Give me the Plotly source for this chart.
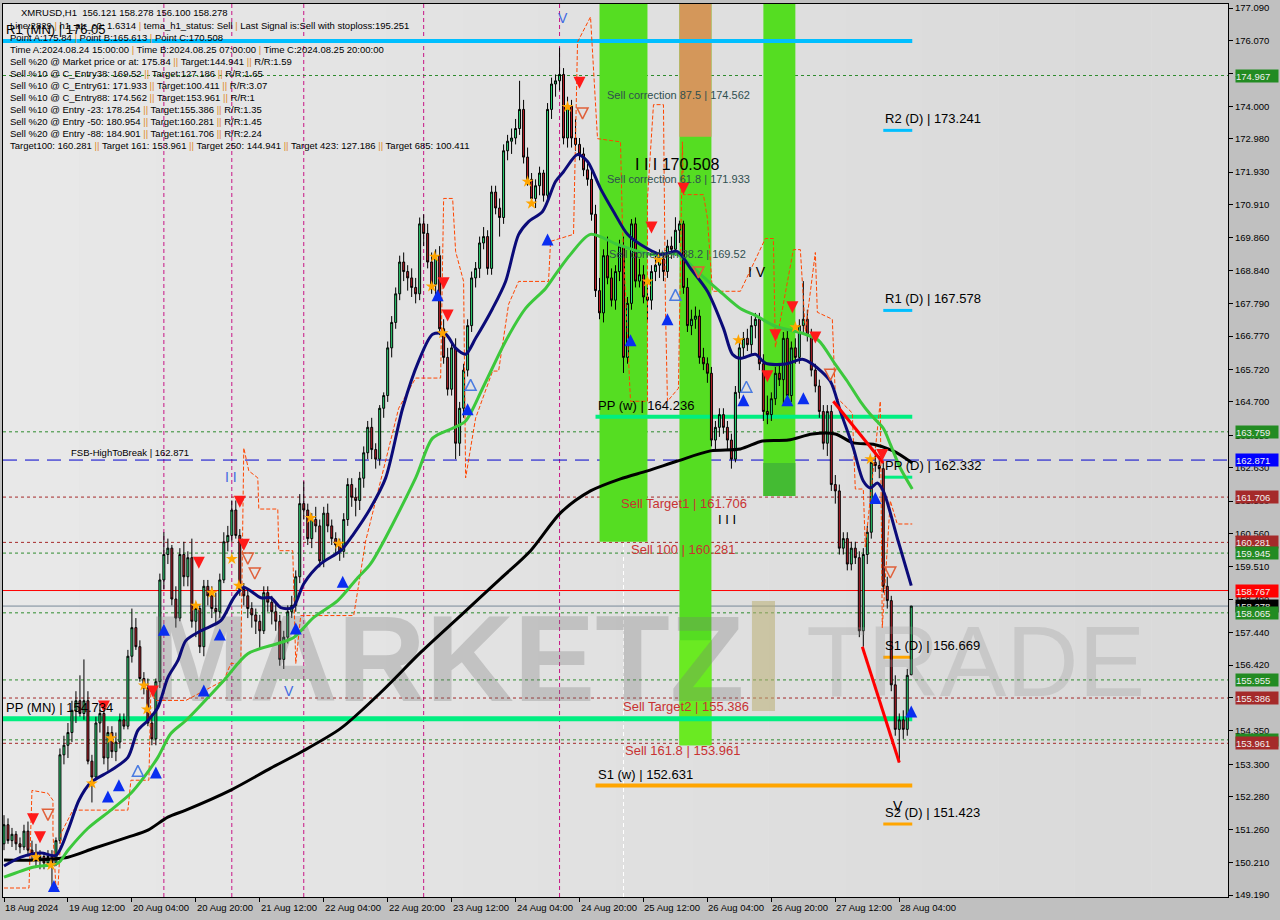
import re
import pandas as pd
import plotly.graph_objects as go

# ---------------- DATA ----------------
T0 = pd.Timestamp("2024-08-18 20:00")

open_px = [
    150.8, 151.4, 150.9, 151.1, 150.8, 150.7, 151.2, 150.6, 150.5, 150.3, 150.4, 150.2,
    150.4, 150.2, 150.9, 153.6, 153.9, 154.3, 155.0, 155.3, 154.9, 155.3, 153.4, 152.9,
    154.6, 154.9, 153.5, 154.3, 153.7, 154.0, 154.7, 154.5, 156.7, 157.6, 157.0, 156.0,
    155.7, 154.6, 154.1, 155.9, 159.1, 159.9, 160.1, 158.5, 157.9, 159.9, 159.2, 159.8,
    157.8, 158.2, 157.0, 158.9, 158.6, 158.2, 158.1, 159.1, 160.3, 160.5, 161.3, 160.5,
    158.8, 158.6, 158.2, 158.0, 157.8, 157.5, 158.7, 158.4, 158.1, 157.8, 156.6, 157.3,
    158.1, 158.3, 159.2, 161.5, 161.3, 160.4, 161.0, 160.8, 159.7, 161.2, 160.8, 160.4,
    160.2, 160.0, 161.0, 162.1, 161.7, 161.6, 162.3, 163.1, 163.9, 163.2, 162.9, 164.5,
    164.9, 166.4, 167.2, 168.1, 169.1, 168.8, 168.6, 168.3, 168.1, 170.3, 170.0, 169.1,
    168.4, 169.3, 167.0, 166.1, 165.1, 166.4, 163.4, 164.5, 165.7, 167.1, 168.6, 168.9,
    169.7, 169.9, 168.9, 171.3, 170.8, 170.5, 172.6, 172.9, 173.0, 173.3, 173.9, 172.4,
    171.7, 171.1, 171.5, 171.9, 171.2, 173.9, 174.7, 174.8, 175.0, 173.0, 174.0, 173.0,
    172.8, 172.5, 172.0, 171.7, 170.6, 168.2, 167.5, 169.3, 168.6, 167.9, 168.8, 169.6,
    166.1, 167.8, 170.3, 168.5, 168.7, 168.0, 167.9, 168.8, 169.0, 169.2, 168.8, 169.6,
    169.5, 170.1, 170.3, 168.3, 167.1, 167.3, 167.4, 166.1, 165.9, 165.6, 163.5, 163.9,
    164.3, 163.9, 163.5, 162.9, 165.0, 166.4, 166.7, 166.5, 167.1, 167.3, 165.9, 164.4,
    164.3, 164.8, 165.6, 165.4, 166.7, 164.9, 166.4, 166.1, 167.1, 167.3, 166.8, 165.7,
    165.2, 164.4, 163.4, 164.4, 162.1, 161.9, 160.1, 160.4, 159.6, 160.1, 159.8, 157.5,
    159.9, 160.6, 162.8, 162.7, 162.6, 158.9, 158.45, 155.8, 154.4, 154.7, 154.4, 156.121,
]
high_px = [
    151.7, 151.6, 151.3, 151.2, 151.0, 151.4, 151.5, 150.9, 150.8, 150.6, 150.5, 150.6,
    150.6, 151.0, 153.8, 154.2, 154.6, 155.3, 155.6, 156.1, 156.6, 155.6, 153.6, 154.8,
    155.2, 155.1, 154.5, 154.5, 154.3, 154.9, 154.9, 156.9, 158.2, 157.9, 157.2, 156.2,
    156.0, 154.9, 156.0, 159.3, 160.6, 160.4, 160.2, 158.9, 160.1, 160.3, 160.0, 160.4,
    158.4, 158.3, 159.1, 159.1, 158.9, 158.7, 159.3, 160.6, 160.8, 161.6, 161.6, 160.7,
    159.0, 158.8, 158.4, 158.2, 158.0, 158.9, 158.9, 158.6, 158.4, 158.0, 157.5, 158.3,
    158.6, 159.4, 161.8, 162.2, 161.5, 161.2, 161.4, 161.0, 161.4, 161.5, 161.0, 160.6,
    160.4, 161.2, 162.3, 162.3, 162.0, 162.5, 163.3, 164.1, 164.2, 163.4, 164.6, 165.0,
    166.6, 167.4, 168.3, 169.3, 169.4, 169.0, 168.9, 168.6, 170.5, 170.6, 170.3, 169.4,
    169.5, 169.6, 167.3, 166.4, 166.6, 166.7, 164.7, 165.9, 167.3, 168.8, 169.1, 169.9,
    170.2, 170.1, 171.5, 171.5, 171.1, 172.8, 173.1, 173.3, 173.6, 174.8, 174.2, 172.7,
    171.9, 171.7, 172.1, 172.0, 174.1, 174.9, 175.0, 175.84, 175.2, 174.3, 174.2, 173.6,
    173.0, 172.7, 172.2, 172.0, 170.9, 168.6, 169.5, 169.9, 168.9, 169.0, 169.8, 169.9,
    168.0, 170.45, 170.5, 169.2, 169.0, 168.3, 169.0, 169.3, 169.5, 169.4, 169.8, 169.9,
    170.508, 170.4, 170.4, 168.6, 167.6, 167.7, 167.6, 166.4, 166.1, 165.8, 164.1, 164.5,
    164.5, 164.1, 163.7, 165.2, 166.6, 166.9, 167.0, 167.4, 167.5, 167.5, 166.2, 164.9,
    165.0, 165.8, 165.9, 166.9, 167.0, 166.6, 166.7, 167.3, 168.5, 167.6, 167.0, 165.9,
    165.4, 164.6, 164.6, 164.6, 162.4, 162.1, 160.6, 160.6, 160.3, 160.3, 160.0, 160.1,
    160.8, 162.9, 163.2, 163.0, 162.8, 159.2, 158.6, 156.1, 154.9, 155.0, 156.3, 158.278,
]
low_px = [
    150.6, 150.8, 150.7, 150.6, 150.5, 150.6, 150.4, 150.3, 150.1, 150.0, 150.0, 150.1,
    149.4, 150.1, 150.8, 153.3, 153.5, 154.0, 154.6, 154.8, 154.7, 153.3, 152.1, 152.8,
    154.3, 153.3, 153.1, 153.5, 153.4, 153.8, 154.4, 154.4, 156.5, 156.9, 155.9, 155.5,
    154.5, 153.9, 153.9, 155.7, 158.8, 159.6, 158.3, 157.6, 157.8, 158.9, 158.9, 157.6,
    157.3, 156.8, 156.7, 158.3, 157.9, 157.7, 157.9, 159.0, 160.0, 160.3, 160.4, 158.6,
    158.3, 157.9, 157.6, 157.4, 156.9, 157.4, 158.1, 157.7, 157.5, 156.4, 156.3, 157.1,
    157.9, 158.1, 159.0, 161.0, 160.2, 160.1, 160.6, 159.5, 159.5, 160.6, 160.2, 159.9,
    159.7, 159.8, 160.8, 161.4, 161.1, 161.3, 162.0, 162.9, 162.9, 162.6, 162.7, 164.2,
    164.7, 166.1, 167.0, 167.9, 168.5, 168.2, 168.0, 167.8, 167.9, 169.6, 168.9, 168.1,
    168.0, 166.8, 165.9, 164.9, 164.9, 162.9, 163.0, 164.2, 165.5, 166.9, 168.3, 168.6,
    169.5, 168.7, 168.7, 170.6, 169.9, 170.3, 172.3, 172.5, 172.8, 173.1, 172.2, 171.5,
    170.9, 170.8, 171.2, 171.0, 171.0, 173.6, 174.3, 174.5, 172.8, 172.7, 172.7, 172.6,
    172.3, 171.8, 171.5, 170.4, 168.0, 167.3, 167.2, 168.4, 167.7, 167.6, 168.5, 165.61,
    165.9, 167.6, 168.3, 168.3, 167.8, 167.2, 167.6, 168.5, 168.6, 168.5, 168.6, 169.2,
    169.3, 169.7, 168.1, 166.9, 166.8, 167.0, 165.9, 165.7, 165.3, 163.3, 163.2, 163.6,
    163.7, 163.2, 162.6, 162.8, 164.8, 166.1, 166.3, 166.2, 166.7, 165.7, 164.1, 164.0,
    164.1, 164.6, 165.2, 164.6, 164.6, 164.7, 165.9, 165.9, 166.9, 166.6, 165.5, 165.0,
    164.2, 163.2, 163.0, 161.9, 161.5, 159.9, 159.9, 159.4, 159.4, 159.6, 157.3, 157.0,
    159.6, 160.4, 162.5, 162.3, 158.7, 158.2, 155.6, 154.2, 153.36, 154.1, 154.2, 156.100,
]
close_px = [
    151.4, 150.9, 151.1, 150.8, 150.7, 151.2, 150.6, 150.5, 150.3, 150.4, 150.2, 150.4,
    150.2, 150.9, 153.6, 153.9, 154.3, 155.0, 155.3, 154.9, 155.3, 153.4, 152.9, 154.6,
    154.9, 153.5, 154.3, 153.7, 154.0, 154.7, 154.5, 156.7, 157.6, 157.0, 156.0, 155.7,
    154.6, 154.1, 155.9, 159.1, 159.9, 160.1, 158.5, 157.9, 159.9, 159.2, 159.8, 157.8,
    158.2, 157.0, 158.9, 158.6, 158.2, 158.1, 159.1, 160.3, 160.5, 161.3, 160.5, 158.8,
    158.6, 158.2, 158.0, 157.8, 157.5, 158.7, 158.4, 158.1, 157.8, 156.6, 157.3, 158.1,
    158.3, 159.2, 161.5, 161.3, 160.4, 161.0, 160.8, 159.7, 161.2, 160.8, 160.4, 160.2,
    160.0, 161.0, 162.1, 161.7, 161.6, 162.3, 163.1, 163.9, 163.2, 162.9, 164.5, 164.9,
    166.4, 167.2, 168.1, 169.1, 168.8, 168.6, 168.3, 168.1, 170.3, 170.0, 169.1, 168.4,
    169.3, 167.0, 166.1, 165.1, 166.4, 163.4, 164.5, 165.7, 167.1, 168.6, 168.9, 169.7,
    169.9, 168.9, 171.3, 170.8, 170.5, 172.6, 172.9, 173.0, 173.3, 173.9, 172.4, 171.7,
    171.1, 171.5, 171.9, 171.2, 173.9, 174.7, 174.8, 175.0, 173.0, 174.0, 173.0, 172.8,
    172.5, 172.0, 171.7, 170.6, 168.2, 167.5, 169.3, 168.6, 167.9, 168.8, 169.6, 166.1,
    167.8, 170.3, 168.5, 168.7, 168.0, 167.9, 168.8, 169.0, 169.2, 168.8, 169.6, 169.5,
    170.1, 170.3, 168.3, 167.1, 167.3, 167.4, 166.1, 165.9, 165.6, 163.5, 163.9, 164.3,
    163.9, 163.5, 162.9, 165.0, 166.4, 166.7, 166.5, 167.1, 167.3, 165.9, 164.4, 164.3,
    164.8, 165.6, 165.4, 166.7, 164.9, 166.4, 166.1, 167.1, 167.3, 166.8, 165.7, 165.2,
    164.4, 163.4, 164.4, 162.1, 161.9, 160.1, 160.4, 159.6, 160.1, 159.8, 157.5, 159.9,
    160.6, 162.8, 162.7, 162.6, 158.9, 158.45, 155.8, 154.4, 154.7, 154.4, 156.1, 158.278,
]

# moving averages (bar index, price)
navy_idx = [0, 4.25, 9.25, 13, 16, 18.75, 21.75, 26.75, 31, 33.5, 36, 38.5, 41, 43.5, 45.5,
            49.25, 54.25, 57.5, 60, 64.25, 66.75, 69.25, 72.25, 75, 79.25, 84.25, 87.5, 91.75,
            95.5, 99.75, 103.75, 107.25, 110.5, 113, 115.5, 118, 122.25, 125.5, 128.75, 131.25,
            134.75, 138, 140, 143.5, 146, 149.25, 152.5, 156, 159.25, 164.25, 168.5, 171.75,
            176, 180, 182.25, 184.25, 188, 190.5, 195.5, 199.75, 202.25, 206.75, 209.25, 212.5,
            215, 216.75, 218.5, 220, 223.5, 227]
navy_val = [150.10, 150.38, 150.51, 150.44, 151.23, 152.17, 152.73, 153.11, 153.52, 154.37,
            154.68, 155.09, 156.03, 156.56, 157.19, 157.50, 157.82, 158.54, 158.86, 158.54,
            158.54, 158.23, 158.23, 158.98, 159.61, 160.02, 160.55, 161.37, 162.31, 164.50,
            165.98, 166.83, 166.83, 166.39, 166.20, 166.70, 167.64, 168.49, 169.96, 170.37,
            170.69, 171.63, 171.94, 172.48, 172.26, 171.41, 170.69, 169.97, 169.65, 169.34,
            169.43, 168.90, 168.18, 167.02, 166.20, 166.07, 166.20, 165.92, 165.89, 166.04,
            165.89, 165.35, 164.41, 163.25, 162.21, 161.99, 162.15, 161.90, 160.42, 158.92]

green_idx = [0, 7.5, 13.5, 16, 21, 26.75, 31.75, 35, 38.5, 41.75, 45.5, 55, 61, 68.5, 72.5,
             77.5, 83.5, 88.5, 91.75, 103, 107.25, 112.25, 115.5, 119.75, 125.5, 130.5, 135.5,
             138, 141.75, 146.75, 153.5, 161.75, 168.5, 174.25, 180, 184.25, 188, 193, 199.75,
             203.75, 208, 211, 214.25, 216.75, 220, 221.75, 224.25, 227.25]
green_val = [149.75, 150.07, 150.19, 150.60, 151.29, 151.86, 152.39, 152.89, 153.52, 154.27,
             154.68, 155.94, 156.78, 157.10, 157.29, 157.92, 158.45, 159.17, 159.61, 162.31,
             163.56, 163.87, 164.10, 165.13, 166.61, 167.64, 168.27, 168.71, 169.34, 169.97,
             169.65, 169.34, 169.34, 168.71, 168.08, 167.64, 167.42, 167.08, 166.86, 166.64,
             165.88, 165.35, 164.72, 164.31, 163.87, 163.37, 162.62, 161.96]

black_idx = [0, 7.5, 16, 22.5, 31, 36, 41, 45.5, 56.75, 66.75, 74.25, 84.25, 94.25, 104.25,
             114.25, 124.25, 131.75, 139.25, 146.75, 154.25, 161, 168.5, 176.75, 184.25,
             189.75, 196.25, 202.25, 208, 212.5, 217.5, 222.5, 227.25]
black_val = [150.29, 150.29, 150.38, 150.66, 151.01, 151.23, 151.64, 151.86, 152.49, 153.18,
             153.68, 154.43, 155.56, 156.82, 157.98, 159.14, 160.02, 161.21, 161.90, 162.28,
             162.53, 162.84, 163.16, 163.22, 163.47, 163.50, 163.69, 163.69, 163.41, 163.37,
             163.16, 162.78]

orange_idx = [0, 6.25, 7, 11, 12.25, 12.25, 13, 13.5, 14.25, 17.25, 31, 31.75, 36.25, 36.75,
              38, 45.5, 55, 56.75, 59.25, 60, 61.25, 63.5, 63.75, 68.5, 68.75, 72.25, 73, 74.25,
              87.5, 90.5, 98.75, 103, 109.25, 110, 112.25, 113, 115, 115.5, 118, 122.25, 123.75,
              126.25, 128.75, 136.25, 136.75, 142.5, 143.5, 146.75, 148.5, 154.25, 154.75,
              156.75, 161, 161, 162.5, 165, 165.5, 166, 168.75, 169.75, 170, 175, 176, 177.25,
              184.25, 190.5, 192.5, 193, 197.5, 199.25, 200.5, 203, 203.5, 207.25, 208, 212.25,
              213, 215, 215.5, 219.25, 219.75, 221.75, 223.5, 227.25]
orange_val = [149.41, 149.41, 152.48, 152.39, 152.17, 151.13, 149.41, 149.41, 151.13, 151.86,
              151.86, 152.80, 152.80, 155.62, 155.31, 155.31, 155.94, 156.47, 156.47, 163.25,
              162.53, 162.31, 161.33, 161.33, 160.02, 160.02, 156.47, 157.98, 157.98, 160.33,
              164.50, 165.45, 165.45, 171.10, 171.10, 169.43, 168.49, 162.31, 164.19, 165.67,
              165.67, 167.77, 168.49, 168.49, 169.75, 169.97, 176.02, 176.81, 172.98, 172.88,
              170.15, 164.72, 164.72, 171.10, 174.05, 174.05, 167.64, 164.72, 165.13, 172.88,
              171.22, 171.22, 170.47, 168.18, 168.18, 169.84, 169.84, 166.42, 169.49, 169.49,
              166.92, 169.40, 167.52, 167.30, 164.88, 164.35, 161.96, 161.96, 160.14, 164.72,
              157.60, 161.59, 160.86, 160.86]

trend1_idx = [207.5, 220]
trend1_val = [164.72, 162.78]
trend2_idx = [214.75, 224]
trend2_val = [157.0, 153.36]

buy_idx = [12.5, 26, 28.75, 38, 40, 50, 54, 73, 84.75, 108.5, 116, 136, 156.75, 166, 185, 196, 200, 218, 227]
buy_val = [149.66, 152.48, 152.83, 153.23, 157.72, 155.81, 157.57, 157.76, 159.23, 168.24, 164.66,
           170.0, 166.83, 167.49, 164.94, 164.94, 165.0, 161.87, 155.15]
sell_idx = [7.25, 9, 25, 37.25, 48.75, 59, 60, 110, 111, 144, 162, 170, 191, 193, 197.25, 203, 219.75]
sell_val = [151.38, 150.82, 154.93, 155.40, 159.45, 161.37, 160.02, 168.24, 167.23, 174.55, 170.0,
            171.22, 165.32, 166.61, 167.49, 166.54, 162.84]
hollow_up_idx = [33.5, 116.75, 168, 185.75]
hollow_up_val = [153.27, 165.41, 168.24, 165.35]
hollow_dn_idx = [11, 61, 62.75, 144.75, 173.75, 206.75, 221.75]
hollow_dn_val = [151.54, 159.6, 159.13, 173.6, 168.6, 165.38, 159.16]
star_idx = [8, 11.75, 22, 26.75, 35, 35.75, 48, 52, 57, 58.75, 76.75, 83.75, 107, 107.75, 109.75,
            131, 132, 141, 161, 163.75, 183.75, 198, 216.75]
star_val = [150.38, 150.13, 152.70, 154.12, 155.78, 155.03, 158.29, 158.70, 159.76, 158.92, 161.05,
            160.24, 168.33, 169.27, 166.86, 171.63, 170.94, 173.98, 168.49, 169.18, 166.64, 167.05,
            162.90]

# horizontal levels
level_vals = [174.967, 163.759, 162.871, 161.706, 160.281, 159.945, 158.767, 158.278, 158.065,
              155.955, 155.386, 154.07, 153.961]
level_cols = ["#2E8B2E", "#2E8B2E", "#0000CD", "#A52A2A", "#A52A2A", "#2E8B2E", "#FF0000",
              "#778899", "#2E8B2E", "#2E8B2E", "#A52A2A", "#2E8B2E", "#A52A2A"]
level_box = ["#228B22", "#228B22", "#0000FF", "#A52A2A", "#A52A2A", "#228B22", "#FF0000",
             "#000000", "#228B22", "#228B22", "#A52A2A", "#228B22", "#A52A2A"]
level_dash = ["3px,3px", "3px,3px", "14px,8px", "3px,3px", "3px,3px", "3px,3px", "solid",
              "solid", "3px,3px", "3px,3px", "3px,3px", "3px,3px", "3px,3px"]

# pivots
pivot_names = ["R1 (MN)", "PP (MN)", "PP (w)", "S1 (w)", "R2 (D)", "R1 (D)", "PP (D)", "S1 (D)", "S2 (D)"]
pivot_vals = [176.05, 154.734, 164.236, 152.631, 173.241, 167.578, 162.332, 156.669, 151.423]
pivot_start = [-0.75, -0.75, 148, 148, 220, 220, 220, 220, 220]
pivot_cols = ["#00BFFF", "#00EE80", "#00EE80", "#FFA500", "#00BFFF", "#00BFFF", "#00EE80", "#FFA500", "#FFA500"]
pivot_w = [4, 5, 4, 4, 3, 3, 3, 3, 3]

# zones (start idx, end idx, bottom price)
zone_start = [149, 169, 190]
zone_end = [161, 177, 198]
zone_bottom = [160.3, 153.9, 161.74]

vline_idx = [40, 57, 75, 105, 139]

ytick_vals = [149.19, 150.21, 151.26, 152.28, 153.30, 154.35, 155.40, 156.42, 157.44, 158.49,
              159.51, 160.56, 161.58, 162.63, 163.65, 164.70, 165.72, 166.77, 167.79, 168.84,
              169.86, 170.91, 171.93, 172.98, 174.00, 175.02, 176.07, 177.09]
xtick_labels = ["18 Aug 2024", "19 Aug 12:00", "20 Aug 04:00", "20 Aug 20:00", "21 Aug 12:00",
                "22 Aug 04:00", "22 Aug 20:00", "23 Aug 12:00", "24 Aug 04:00", "24 Aug 20:00",
                "25 Aug 12:00", "26 Aug 04:00", "26 Aug 20:00", "27 Aug 12:00", "28 Aug 04:00"]

header_lines = [
    "Line:2829 | h1_atr_c0: 1.6314 | tema_h1_status: Sell | Last Signal is:Sell with stoploss:195.251",
    "Point A:175.84 | Point B:165.613 | Point C:170.508",
    "Time A:2024.08.24 15:00:00 | Time B:2024.08.25 07:00:00 | Time C:2024.08.25 20:00:00",
    "Sell %20 @ Market price or at: 175.84 || Target:144.941 || R/R:1.59",
    "Sell %10 @ C_Entry38: 169.52 || Target:127.186 || R/R:1.65",
    "Sell %10 @ C_Entry61: 171.933 || Target:100.411 || R/R:3.07",
    "Sell %10 @ C_Entry88: 174.562 || Target:153.961 || R/R:1",
    "Sell %10 @ Entry -23: 178.254 || Target:155.386 || R/R:1.35",
    "Sell %20 @ Entry -50: 180.954 || Target:160.281 || R/R:1.45",
    "Sell %20 @ Entry -88: 184.901 || Target:161.706 || R/R:2.24",
    "Target100: 160.281 || Target 161: 153.961 || Target 250: 144.941 || Target 423: 127.186 || Target 685: 100.411",
]

# ---------------- FIGURE ----------------
W, H = 1280, 920
ML, MR, MT, MB = 2, 52, 2, 23
Y0, Y1 = 149.127, 177.216
FONT = "Liberation Sans, Arial, sans-serif"


def tt(v):
    return T0 + pd.Timedelta(hours=float(v))


def pp(px, py):
    return (px - ML) / (W - ML - MR), 1 - (py - MT) / (H - MT - MB)


def px_time(px):
    return tt((px - 3) / 4.0)


def py_price(py):
    return Y1 - (py - MT) * (Y1 - Y0) / (H - MT - MB)


bars = [tt(i) for i in range(len(close_px))]
fig = go.Figure()

shapes = []
# soft background gradient (left lighter, right darker)
n_strips = 16
for k in range(n_strips):
    g = int(232 - 14 * k / (n_strips - 1))
    shapes.append(dict(type="rect", xref="paper", yref="paper", x0=k / n_strips, x1=(k + 1) / n_strips,
                       y0=0, y1=1, fillcolor=f"rgb({g},{g},{g})", line=dict(width=0), layer="below"))
# colour zones
for s, e, b in zip(zone_start, zone_end, zone_bottom):
    shapes.append(dict(type="rect", xref="x", yref="y", x0=tt(s), x1=tt(e), y0=b, y1=Y1,
                       fillcolor="#55DD22", line=dict(width=0), layer="below"))
shapes.append(dict(type="rect", xref="x", yref="y", x0=tt(zone_start[1]), x1=tt(zone_end[1]),
                   y0=173.04, y1=Y1, fillcolor="#D4975A", line=dict(width=0), layer="below"))
shapes.append(dict(type="rect", xref="x", yref="y", x0=tt(zone_start[1]), x1=tt(zone_end[1]),
                   y0=153.9, y1=157.2, fillcolor="#6AEA22", line=dict(width=0), layer="below"))
shapes.append(dict(type="rect", xref="x", yref="y", x0=tt(zone_start[2]), x1=tt(zone_end[2]),
                   y0=161.74, y1=162.78, fillcolor="#44BB33", line=dict(width=0), layer="below"))
# vertical separators
for v in vline_idx:
    shapes.append(dict(type="line", xref="x", yref="paper", x0=tt(v), x1=tt(v), y0=0, y1=1,
                       line=dict(color="#C71585", width=1, dash="4px,3px"), layer="below"))
shapes.append(dict(type="line", xref="x", yref="paper", x0=tt(155), x1=tt(155), y0=0, y1=1,
                   line=dict(color="#FFFFFF", width=1, dash="4px,3px"), layer="below"))
# levels
for v, c, d in zip(level_vals, level_cols, level_dash):
    shapes.append(dict(type="line", xref="paper", yref="y", x0=0, x1=1, y0=v, y1=v,
                       line=dict(color=c, width=1, dash=d), layer="below"))
# pivots
for v, s, c, w in zip(pivot_vals, pivot_start, pivot_cols, pivot_w):
    shapes.append(dict(type="line", xref="x", yref="y", x0=tt(s), x1=tt(227.25), y0=v, y1=v,
                       line=dict(color=c, width=w), layer="below"))

# watermark (as background text traces, drawn under the candles)
wm_y = py_price(670)
fig.add_trace(go.Scatter(x=[px_time(147)], y=[wm_y], mode="text", text=["MARKETZ"],
                         textposition="middle right", cliponaxis=False, hoverinfo="skip",
                         textfont=dict(family=FONT, size=122, weight="bold",
                                       color="rgba(120,120,120,0.30)")))
fig.add_trace(go.Scatter(x=[px_time(763)], y=[wm_y], mode="text", text=["I"],
                         textposition="middle center", cliponaxis=False, hoverinfo="skip",
                         textfont=dict(family=FONT, size=160, weight="bold",
                                       color="rgba(185,175,115,0.55)")))
fig.add_trace(go.Scatter(x=[px_time(806)], y=[wm_y], mode="text", text=["TRADE"],
                         textposition="middle right", cliponaxis=False, hoverinfo="skip",
                         textfont=dict(family=FONT, size=100,
                                       color="rgba(150,150,150,0.28)")))

fig.add_trace(go.Scatter(x=[tt(v) for v in orange_idx], y=orange_val, mode="lines",
                         line=dict(color="#FF4500", width=1, dash="4px,2px"), hoverinfo="skip"))
fig.add_trace(go.Candlestick(
    x=bars, open=open_px, high=high_px, low=low_px, close=close_px,
    increasing=dict(line=dict(color="black", width=1), fillcolor="#2EE07A"),
    decreasing=dict(line=dict(color="black", width=1), fillcolor="#C0202A"),
    whiskerwidth=0, hoverinfo="skip"))
fig.add_trace(go.Scatter(x=[tt(v) for v in black_idx], y=black_val, mode="lines",
                         line=dict(color="#000000", width=3, shape="spline", smoothing=0.8)))
fig.add_trace(go.Scatter(x=[tt(v) for v in green_idx], y=green_val, mode="lines",
                         line=dict(color="#3CC83C", width=3, shape="spline", smoothing=0.8)))
fig.add_trace(go.Scatter(x=[tt(v) for v in navy_idx], y=navy_val, mode="lines",
                         line=dict(color="#0B0B78", width=3, shape="spline", smoothing=0.8)))
fig.add_trace(go.Scatter(x=[tt(v) for v in trend1_idx], y=trend1_val, mode="lines",
                         line=dict(color="#FF0000", width=3)))
fig.add_trace(go.Scatter(x=[tt(v) for v in trend2_idx], y=trend2_val, mode="lines",
                         line=dict(color="#FF0000", width=3)))
fig.add_trace(go.Scatter(x=[tt(v) for v in star_idx], y=star_val, mode="markers",
                         marker=dict(symbol="star", size=9, color="#FFA500")))
fig.add_trace(go.Scatter(x=[tt(v) for v in hollow_up_idx], y=hollow_up_val, mode="markers",
                         marker=dict(symbol="arrow-up-open", size=11, color="#4A7BE0",
                                     line=dict(width=1.5, color="#4A7BE0"))))
fig.add_trace(go.Scatter(x=[tt(v) for v in hollow_dn_idx], y=hollow_dn_val, mode="markers",
                         marker=dict(symbol="arrow-down-open", size=11, color="#E0603A",
                                     line=dict(width=1.5, color="#E0603A"))))
fig.add_trace(go.Scatter(x=[tt(v) for v in buy_idx], y=buy_val, mode="markers",
                         marker=dict(symbol="arrow-up", size=12, color="#0A2EF0",
                                     line=dict(width=0))))
fig.add_trace(go.Scatter(x=[tt(v) for v in sell_idx], y=sell_val, mode="markers",
                         marker=dict(symbol="arrow-down", size=12, color="#FF1A1A",
                                     line=dict(width=0))))

ann = []
# header text
sep = lambda s: re.sub(r"\|+", lambda m: "<span style='color:#E08A2C'>" + m.group(0) + "</span>", s)
x0, y0 = pp(18, 11)
ann.append(dict(xref="paper", yref="paper", x=x0, y=y0, xanchor="left", yanchor="middle",
                text="XMRUSD,H1  156.121 158.278 156.100 158.278", showarrow=False,
                font=dict(family=FONT, size=9.5, color="black")))
for k, line in enumerate(header_lines):
    x0, y0 = pp(7, 24 + 12 * k)
    ann.append(dict(xref="paper", yref="paper", x=x0, y=y0, xanchor="left", yanchor="middle",
                    text=sep(line), showarrow=False, font=dict(family=FONT, size=9.5, color="black")))

# pivot labels
for name, v, s in zip(pivot_names, pivot_vals, pivot_start):
    xs = max(s, 0)
    ann.append(dict(x=tt(xs), y=v, xanchor="left", yanchor="bottom", yshift=2,
                    text=f"{name} | {v:g}", showarrow=False,
                    font=dict(family=FONT, size=13, color="black")))

# right axis coloured boxes
for v, c in zip(level_vals, level_box):
    ann.append(dict(xref="paper", x=1, y=v, xanchor="left", yanchor="middle", xshift=7,
                    text=f"{v:.3f}", showarrow=False, bgcolor=c, width=42, height=12,
                    align="left", borderpad=0, font=dict(family=FONT, size=9.5, color="#F0F0F0")))

# chart texts (data anchored)
texts = [
    (16.25, 162.871, "FSB-HighToBreak | 162.871", 9.5, "black", "bottom"),
    (150.25, 174.36, "Sell correction 87.5 | 174.562", 11, "#2F4F4F", "middle"),
    (150.25, 171.72, "Sell correction 61.8 | 171.933", 11, "#2F4F4F", "middle"),
    (150.75, 169.34, "Sell correction 38.2 | 169.52", 11, "#2F4F4F", "middle"),
    (157.5, 172.16, "I I I 170.508", 16, "black", "middle"),
    (153.75, 161.49, "Sell Target1 | 161.706", 13, "#C83232", "middle"),
    (156.5, 160.05, "Sell 100 | 160.281", 13, "#C83232", "middle"),
    (154.25, 155.12, "Sell Target2 | 155.386", 13, "#C83232", "middle"),
    (155.0, 153.74, "Sell 161.8 | 153.961", 13, "#C83232", "middle"),
    (178.25, 160.99, "I I I", 13, "black", "middle"),
    (185.75, 168.80, "I V", 14, "black", "middle"),
    (138.0, 176.78, "V", 14, "#4169E1", "middle"),
    (54.75, 162.34, "I I", 14, "#4169E1", "middle"),
    (69.5, 155.62, "V", 14, "#4169E1", "middle"),
    (222.0, 151.98, "V", 14, "black", "middle"),
]
for xi, yv, tx, fs, col, ya in texts:
    ann.append(dict(x=tt(xi), y=yv, xanchor="left", yanchor=ya, text=tx, showarrow=False,
                    font=dict(family=FONT, size=fs, color=col)))

# bottom axis labels
for k, lab in enumerate(xtick_labels):
    ann.append(dict(x=tt(16 * k), xref="x", y=0, yref="paper", xanchor="left", yanchor="top",
                    yshift=-3, xshift=-1, text=lab, showarrow=False,
                    font=dict(family=FONT, size=9.5, color="black")))

fig.update_layout(
    width=W, height=H, margin=dict(l=ML, r=MR, t=MT, b=MB, pad=0),
    paper_bgcolor="#C0C0C0", plot_bgcolor="#E3E3E3", showlegend=False,
    shapes=shapes, annotations=ann, hovermode=False,
    xaxis=dict(type="date", range=[tt(-0.25), tt(306.25)], showgrid=False, zeroline=False,
               rangeslider=dict(visible=False), tickvals=[tt(16 * k) for k in range(15)],
               showticklabels=False, ticks="outside", ticklen=4, tickcolor="black",
               showline=True, linecolor="black", linewidth=1, mirror=True),
    yaxis=dict(side="right", range=[Y0, Y1], showgrid=False, zeroline=False,
               tickvals=ytick_vals, ticktext=[f"{v:.3f}" for v in ytick_vals],
               ticks="outside", ticklen=4, tickcolor="black",
               tickfont=dict(family=FONT, size=9.5, color="black"),
               showline=True, linecolor="black", linewidth=1, mirror=True),
)

fig.write_html("out.html", config={"displayModeBar": False},
               post_script="document.body.style.margin='0';document.body.style.overflow='hidden';")
